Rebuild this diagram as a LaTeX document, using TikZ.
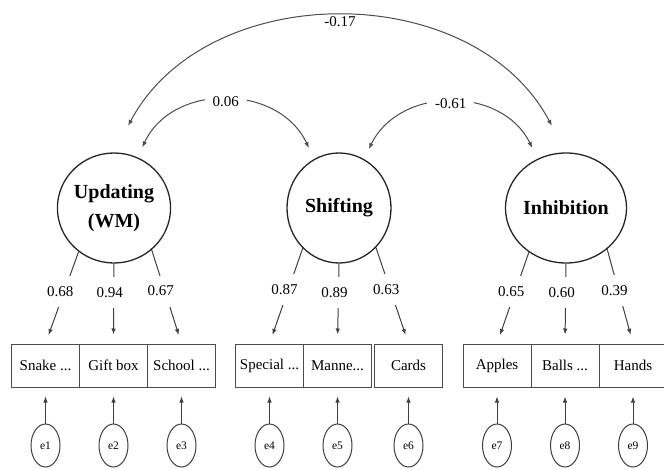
\documentclass[tikz,border=0pt]{standalone}
\usepackage{fontspec}
\setmainfont{Liberation Serif}
\usetikzlibrary{arrows.meta,shapes.geometric,positioning}
\tikzset{
  latent/.style={ellipse,draw=black!85,line width=1.3pt,minimum width=104pt,minimum height=110pt,inner sep=0pt,align=center,font=\fontsize{20}{29}\selectfont\bfseries},
  obs/.style={rectangle,draw=black!70,line width=1pt,minimum width=68pt,minimum height=43pt,inner sep=0pt,font=\fontsize{15}{18}\selectfont},
  err/.style={ellipse,draw=black!75,line width=1pt,minimum width=29pt,minimum height=43pt,inner sep=0pt,font=\fontsize{11.5}{13}\selectfont},
  load/.style={draw=black!75,line width=1pt,-{Latex[length=6pt,width=4.5pt]},shorten >=9pt},
  cov/.style={draw=black!70,line width=1pt,{Latex[length=6pt,width=4.5pt]}-{Latex[length=6pt,width=4.5pt]}},
  lbl/.style={fill=white,inner xsep=1pt,inner ysep=0pt,minimum height=31pt,xshift=-4pt,font=\fontsize{15}{18}\selectfont},
  clbl/.style={fill=white,inner xsep=8pt,inner ysep=2pt,font=\fontsize{15}{18}\selectfont}
}
\begin{document}
\begin{tikzpicture}[x=1pt,y=1pt]
    \path[use as bounding box,fill=white] (0,-470) rectangle (664,0);
    % factors
    \node[latent] (upd) at (114,-208) {Updating\\(WM)};
    \node[latent] (shi) at (339,-208) {Shifting};
    \node[latent] (inh) at (566,-208) {Inhibition};
    % indicators
    \node[obs] (snake) at (45.5,-365.5) {Snake ...};
    \node[obs] (gift) at (113.5,-365.5) {Gift box};
    \node[obs] (school) at (181.5,-365.5) {School ...};
    \node[obs] (special) at (269.5,-365.5) {Special ...};
    \node[obs] (manne) at (337.5,-365.5) {Manne...};
    \node[obs] (cards) at (408.5,-365.5) {Cards};
    \node[obs] (apples) at (497,-365.5) {Apples};
    \node[obs] (balls) at (565,-365.5) {Balls ...};
    \node[obs] (hands) at (633,-365.5) {Hands};
    % errors
    \node[err,below=36pt of snake] (e1) {e1};
    \node[err,below=36pt of gift] (e2) {e2};
    \node[err,below=36pt of school] (e3) {e3};
    \node[err,below=36pt of special] (e4) {e4};
    \node[err,below=36pt of manne] (e5) {e5};
    \node[err,below=36pt of cards] (e6) {e6};
    \node[err,below=36pt of apples] (e7) {e7};
    \node[err,below=36pt of balls] (e8) {e8};
    \node[err,below=36pt of hands] (e9) {e9};
    \foreach \e/\b in {e1/snake,e2/gift,e3/school,e4/special,e5/manne,e6/cards,e7/apples,e8/balls,e9/hands}
        \draw[load] (\e) -- (\b);
    % loadings
    \draw[load] (upd.231) -- node[lbl,pos=.43] {0.68} (snake.north);
    \draw[load] (upd.270) -- node[lbl,pos=.36] {0.94} (gift.north);
    \draw[load] (upd.312) -- node[lbl,pos=.44] {0.67} (school.north);
    \draw[load] (shi.228) -- node[lbl,pos=.43] {0.87} (special.north);
    \draw[load] (shi.270) -- node[lbl,pos=.36] {0.89} (manne.north);
    \draw[load] (shi.313) -- node[lbl,pos=.44] {0.63} (cards.north);
    \draw[load] (inh.230) -- node[lbl,pos=.43] {0.65} (apples.north);
    \draw[load] (inh.270) -- node[lbl,pos=.36] {0.60} (balls.north);
    \draw[load] (inh.315) -- node[lbl,pos=.44] {0.39} (hands.north);
    % covariances
    \draw[cov,shorten <=30pt,shorten >=30pt] (upd.90) to[out=62,in=118,looseness=1.12] node[clbl] {-0.17} (inh.90);
    \draw[cov,shorten <=11pt,shorten >=12pt] (upd.65) to[out=65,in=115,looseness=1.2] node[clbl] {0.06} (shi.117);
    \draw[cov,shorten <=11pt,shorten >=12pt] (shi.63) to[out=64,in=116,looseness=1.2] node[clbl] {-0.61} (inh.120);
\end{tikzpicture}
\end{document}
